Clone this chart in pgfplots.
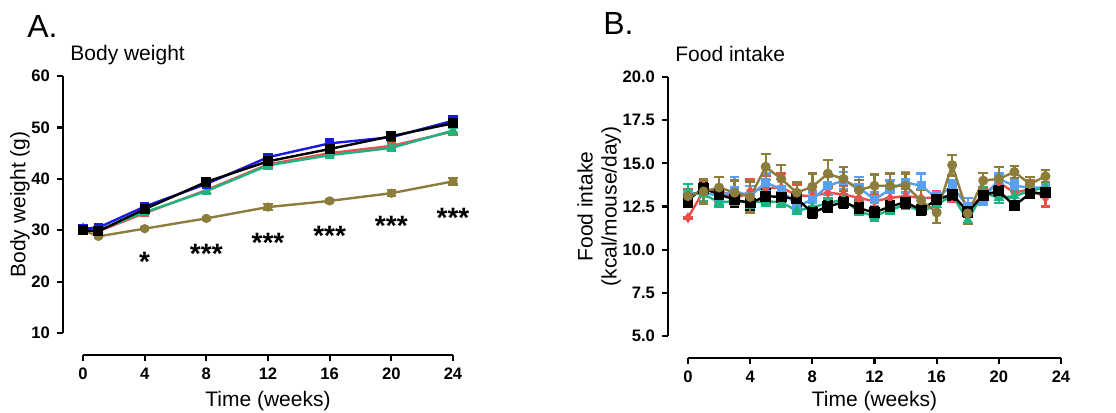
\documentclass[border=0pt]{standalone}
\usepackage{fontspec}
\setmainfont{Liberation Sans}
\usepackage{pgfplots}
\usepackage{pgfplotstable}
\pgfplotsset{compat=1.18}

\definecolor{cblue}{RGB}{25,25,225}
\definecolor{cred}{RGB}{235,80,75}
\definecolor{cgreen}{RGB}{30,180,130}
\definecolor{colive}{RGB}{140,125,60}
\definecolor{clblue}{RGB}{90,160,240}

% Body weight (week, mean, sem)
\pgfplotstableread{
x y e
0 30.3 0.5
1 30.5 0.4
4 34.6 0.5
8 39.0 0.6
12 44.2 0.6
16 46.9 0.8
20 48.1 0.7
24 51.3 0.8
}\BWblue
\pgfplotstableread{
x y e
0 30.2 0.5
1 29.8 0.4
4 33.3 0.5
8 37.8 0.6
12 42.8 0.6
16 45.0 0.7
20 46.4 0.7
24 49.2 0.7
}\BWred
\pgfplotstableread{
x y e
0 30.4 0.5
1 30.0 0.4
4 33.5 0.5
8 37.6 0.6
12 42.6 0.6
16 44.6 0.6
20 46.0 0.6
24 49.4 0.6
}\BWgreen
\pgfplotstableread{
x y e
0 30.0 0.6
1 29.8 0.5
4 34.1 0.6
8 39.4 0.7
12 43.4 0.7
16 45.8 0.8
20 48.3 0.6
24 50.8 0.7
}\BWblack
\pgfplotstableread{
x y e
0 30.0 0.6
1 28.8 0.3
4 30.3 0.3
8 32.3 0.3
12 34.5 0.6
16 35.7 0.3
20 37.2 0.6
24 39.5 0.6
}\BWolive

% Food intake (week, mean, sem)
\pgfplotstableread{
x y e
0 11.85 0.05
1 13.4 0.6
2 13.5 0.7
3 12.9 0.4
4 13.4 0.7
5 13.55 0.7
6 13.6 0.8
7 13.15 0.6
8 13.1 0.3
9 13.3 0.4
10 13.2 0.5
11 13.0 0.4
12 12.8 0.4
13 13.0 0.4
14 13.1 0.4
15 13.0 0.5
16 13.0 0.4
17 13.1 0.3
18 12.3 0.4
19 13.2 0.3
20 13.9 0.3
21 13.3 0.3
22 13.5 0.5
23 13.0 0.5
}\FIred
\pgfplotstableread{
x y e
0 13.2 0.3
1 13.3 0.5
2 13.1 0.5
3 13.4 0.8
4 13.1 0.6
5 13.9 0.5
6 13.5 0.6
7 12.5 0.3
8 12.9 0.4
9 13.7 0.5
10 14.0 0.5
11 13.6 0.6
12 12.9 0.4
13 13.5 0.5
14 13.9 0.6
15 13.7 0.7
16 13.0 0.3
17 13.7 0.3
18 12.5 0.5
19 12.9 0.3
20 14.1 0.3
21 13.7 0.3
22 13.6 0.3
23 13.6 0.3
}\FIblue
\pgfplotstableread{
x y e
0 13.3 0.5
1 13.2 0.4
2 12.75 0.25
3 12.8 0.3
4 12.75 0.3
5 12.8 0.25
6 12.75 0.25
7 12.25 0.2
8 12.45 0.3
9 12.7 0.3
10 12.9 0.3
11 12.2 0.2
12 11.95 0.25
13 12.3 0.25
14 12.6 0.25
15 12.2 0.2
16 12.6 0.3
17 13.15 0.3
18 11.7 0.2
19 13.3 0.3
20 13.0 0.3
21 13.1 0.3
22 13.4 0.3
23 13.6 0.3
}\FIgreen
\pgfplotstableread{
x y e
0 12.9 0.4
1 13.55 0.3
2 13.2 0.3
3 12.9 0.4
4 12.7 0.4
5 13.1 0.4
6 13.05 0.3
7 12.95 0.4
8 12.15 0.3
9 12.5 0.3
10 12.75 0.3
11 12.4 0.3
12 12.15 0.3
13 12.5 0.3
14 12.75 0.3
15 12.3 0.3
16 12.9 0.3
17 13.2 0.3
18 12.2 0.3
19 13.15 0.3
20 13.4 0.3
21 12.55 0.2
22 13.25 0.2
23 13.3 0.2
}\FIblack
\pgfplotstableread{
x y e
0 13.1 0.4
1 13.37 0.7
2 13.6 0.6
3 13.3 0.7
4 13.05 0.9
5 14.8 0.75
6 14.1 0.8
7 13.3 0.6
8 13.65 0.75
9 14.4 0.8
10 14.1 0.7
11 13.45 0.6
12 13.7 0.65
13 13.7 0.7
14 13.7 0.7
15 12.85 0.6
16 12.15 0.6
17 14.9 0.6
18 12.1 0.6
19 14.0 0.45
20 14.1 0.7
21 14.5 0.35
22 13.8 0.4
23 14.25 0.35
}\FIolive

\pgfplotsset{
  prism/.style={
    scale only axis,
    axis lines=left,
    axis line style={line width=1.1pt,-},
    every tick/.style={line width=1.1pt,black},
    major tick length=3pt,
    tick align=outside,
    axis x line shift=11pt,
    axis y line shift=10pt,
    xmin=0, xmax=24,
    xtick={0,4,...,24},
    minor tick num=0,
    /pgf/number format/assume math mode=true,
    ticklabel style={font=\bfseries\fontsize{8.3}{9}\selectfont},
    label style={font=\fontsize{10.5}{12}\selectfont},
    xlabel={Time (weeks)},
    ylabel shift=-6pt,
    clip=false,
  },
  ser/.style={line width=1.2pt, color=#1, mark options={solid,fill=#1,draw=#1,line width=0.6pt},
    error bars/y dir=both, error bars/y explicit,
    error bars/error bar style={line width=1.2pt,color=#1},
    error bars/error mark options={rotate=90,mark size=2.4pt,line width=1.2pt,color=#1}},
}

\begin{document}
\begin{tikzpicture}
\path[use as bounding box] (0,0) rectangle (558pt,206.5pt);

\node[anchor=base west,inner sep=0,font=\fontsize{16}{18}\selectfont] at (13.5pt,187.5pt) {A.};
\node[anchor=base west,inner sep=0,font=\fontsize{16}{18}\selectfont] at (301.5pt,189pt) {B.};
\node[anchor=base west,inner sep=0,font=\fontsize{10.5}{12}\selectfont] at (35pt,176pt) {Body weight};
\node[anchor=base west,inner sep=0,font=\fontsize{10.5}{12}\selectfont] at (337.5pt,175.7pt) {Food intake};

\begin{axis}[prism,
  at={(41.5pt,40pt)}, anchor=south west,
  width=185pt, height=128.5pt,
  ymin=10, ymax=60, ytick={10,20,...,60},
  ylabel={Body weight (g)},
  xlabel style={yshift=1pt},
]
\addplot[ser=cred, mark=triangle*, mark size=2pt] table[x=x,y=y,y error=e] {\BWred};
\addplot[ser=cgreen, mark=triangle*, mark size=2.4pt] table[x=x,y=y,y error=e] {\BWgreen};
\addplot[ser=cblue, mark=square*, mark size=2pt] table[x=x,y=y,y error=e] {\BWblue};
\addplot[ser=colive, mark=*, mark size=2pt] table[x=x,y=y,y error=e] {\BWolive};
\addplot[ser=black, mark=square*, mark size=2.2pt] table[x=x,y=y,y error=e] {\BWblack};
\node[anchor=base,font=\bfseries\fontsize{14}{14}\selectfont] at (axis cs:4,21.9) {*};
\node[anchor=base,font=\bfseries\fontsize{14}{14}\selectfont] at (axis cs:8,23.6) {***};
\node[anchor=base,font=\bfseries\fontsize{14}{14}\selectfont] at (axis cs:12,25.6) {***};
\node[anchor=base,font=\bfseries\fontsize{14}{14}\selectfont] at (axis cs:16,27.1) {***};
\node[anchor=base,font=\bfseries\fontsize{14}{14}\selectfont] at (axis cs:20,28.9) {***};
\node[anchor=base,font=\bfseries\fontsize{14}{14}\selectfont] at (axis cs:24,30.6) {***};
\end{axis}

\begin{axis}[prism,
  at={(344pt,38.5pt)}, anchor=south west,
  width=186.5pt, height=129.5pt,
  ymin=5, ymax=20, ytick={5,7.5,...,20},
  yticklabel style={/pgf/number format/.cd,fixed,fixed zerofill,precision=1},
  ylabel={Food intake\\(kcal/mouse/day)},
  ylabel style={align=center},
  xlabel style={yshift=2.5pt},
]
\addplot[ser=cred, mark=diamond*, mark size=2.2pt] table[x=x,y=y,y error=e] {\FIred};
\addplot[ser=clblue, mark=square*, mark size=2pt] table[x=x,y=y,y error=e] {\FIblue};
\addplot[ser=cgreen, mark=triangle*, mark size=2.5pt] table[x=x,y=y,y error=e] {\FIgreen};
\addplot[ser=black, mark=square*, mark size=2.4pt] table[x=x,y=y,y error=e] {\FIblack};
\addplot[ser=colive, mark=*, mark size=2.2pt] table[x=x,y=y,y error=e] {\FIolive};
\end{axis}
\end{tikzpicture}
\end{document}
